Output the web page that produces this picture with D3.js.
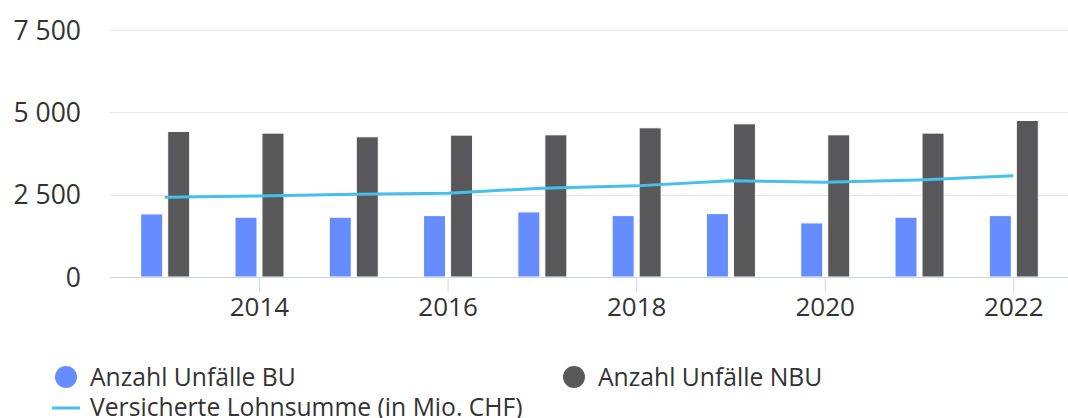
<!DOCTYPE html>
<html>
<head>
<meta charset="utf-8">
<script src="https://cdn.jsdelivr.net/npm/d3@7"></script>
<style>
  html, body { margin: 0; padding: 0; background: #fff; }
  svg { display: block; }
  text { font-family: "Open Sans", "Noto Sans", sans-serif; fill: #333; }
</style>
</head>
<body>
<svg id="chart" width="1068" height="418"></svg>
<script>
const years = [2013, 2014, 2015, 2016, 2017, 2018, 2019, 2020, 2021, 2022];
const unfaelleBU = [1915, 1815, 1815, 1864, 1976, 1864, 1925, 1642, 1815, 1864];
const unfaelleNBU = [4418, 4369, 4257, 4308, 4317, 4530, 4652, 4317, 4369, 4753];
const lohnsumme = [2423, 2463, 2514, 2545, 2697, 2767, 2919, 2879, 2949, 3071];
const yTicks = [0, 2500, 5000, 7500];
const xTickYears = [2014, 2016, 2018, 2020, 2022];
const seriesNames = ["Anzahl Unfälle BU", "Anzahl Unfälle NBU", "Versicherte Lohnsumme (in Mio. CHF)"];
const colors = ["#658dff", "#58585a", "#45c0ea"];

const svg = d3.select("#chart");
const plot = { left: 110, right: 1068, top: 30, bottom: 277 };

const x = d3.scalePoint().domain(years).range([plot.left, plot.right]).padding(0.58);
const y = d3.scaleLinear().domain([0, 7500]).range([plot.bottom, plot.top]);

const fmt = v => d3.format(",")(v).replace(/,/g, " ");

// gridlines
svg.append("g")
  .selectAll("line").data(yTicks.filter(d => d > 0)).join("line")
  .attr("x1", plot.left).attr("x2", plot.right)
  .attr("y1", d => Math.round(y(d)) + 0.5).attr("y2", d => Math.round(y(d)) + 0.5)
  .attr("stroke", "#e6e6e6").attr("stroke-width", 1);

// y labels
const yAxis = d3.axisLeft(y).tickValues(yTicks).tickFormat(fmt).tickSize(0).tickPadding(0);
const gy = svg.append("g").attr("transform", `translate(81,0)`).call(yAxis);
gy.select(".domain").remove();
gy.selectAll("text").attr("font-size", 26.5).attr("font-family", '"Open Sans", sans-serif').attr("fill", "#333").attr("dy", "0.34em");

// bars
const bw = 22;
svg.append("g").selectAll("rect").data(years).join("rect")
  .attr("x", d => x(d) - 24).attr("width", bw)
  .attr("y", (d, i) => y(unfaelleBU[i])).attr("height", (d, i) => y(0) - y(unfaelleBU[i]))
  .attr("fill", colors[0]).attr("stroke", "#fff").attr("stroke-width", 1);
svg.append("g").selectAll("rect").data(years).join("rect")
  .attr("x", d => x(d) + 3).attr("width", bw)
  .attr("y", (d, i) => y(unfaelleNBU[i])).attr("height", (d, i) => y(0) - y(unfaelleNBU[i]))
  .attr("fill", colors[1]).attr("stroke", "#fff").attr("stroke-width", 1);

// x axis
svg.append("line").attr("x1", plot.left).attr("x2", plot.right)
  .attr("y1", plot.bottom + 0.5).attr("y2", plot.bottom + 0.5)
  .attr("stroke", "#ccd6eb").attr("stroke-width", 1);
const xAxis = d3.axisBottom(x).tickValues(xTickYears).tickSize(15).tickPadding(6);
const gx = svg.append("g").attr("transform", `translate(0,${plot.bottom})`).call(xAxis);
gx.select(".domain").remove();
gx.selectAll(".tick line").attr("stroke", "#ccd6eb");
gx.selectAll("text").attr("font-size", 26).attr("font-family", '"Open Sans", sans-serif').attr("fill", "#333");

// line
const line = d3.line().x(d => x(d.year)).y(d => y(d.v));
svg.append("path")
  .datum(years.map((yr, i) => ({ year: yr, v: lohnsumme[i] })))
  .attr("d", line).attr("fill", "none").attr("stroke", colors[2]).attr("stroke-width", 3);

// legend
const lg = svg.append("g");
lg.append("circle").attr("cx", 66).attr("cy", 377).attr("r", 11).attr("fill", colors[0]);
lg.append("text").attr("x", 90).attr("y", 386).attr("font-size", 24.7).text(seriesNames[0]);
lg.append("circle").attr("cx", 574).attr("cy", 377).attr("r", 11).attr("fill", colors[1]);
lg.append("text").attr("x", 598).attr("y", 386).attr("font-size", 24.7).text(seriesNames[1]);
lg.append("line").attr("x1", 52).attr("x2", 80).attr("y1", 408).attr("y2", 408)
  .attr("stroke", colors[2]).attr("stroke-width", 3);
lg.append("text").attr("x", 90).attr("y", 416).attr("font-size", 24.7).text(seriesNames[2]);
</script>
</body>
</html>
